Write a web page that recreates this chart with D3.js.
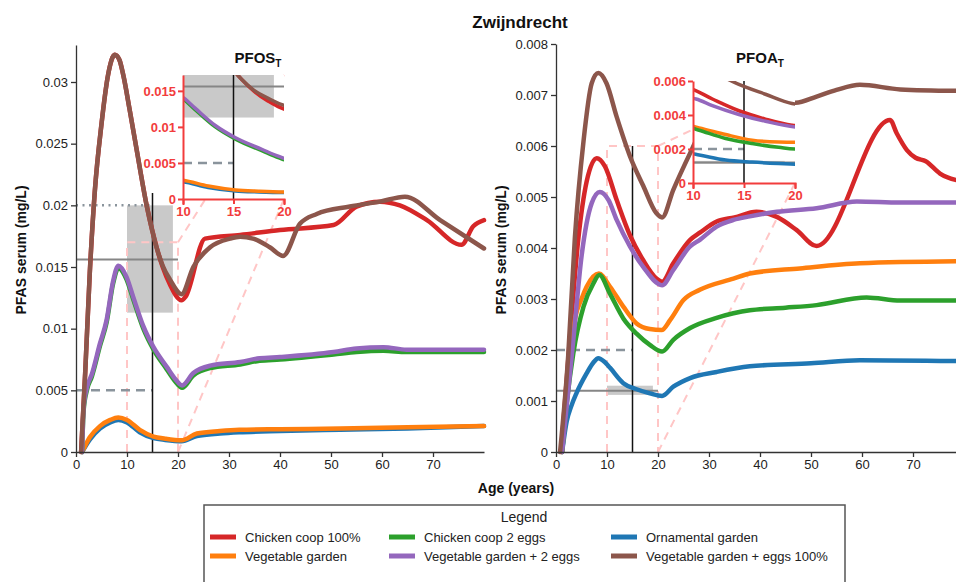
<!DOCTYPE html>
<html>
<head>
<meta charset="utf-8">
<script src="https://cdn.jsdelivr.net/npm/d3@7"></script>
<style>
  body { margin: 0; background: #fff; }
  svg { display: block; font-family: "Liberation Sans", Arial, sans-serif; }
</style>
</head>
<body>
<svg id="chart" width="956" height="582"></svg>
<script>
// ---------- scenarios ----------
const scenarioNames = [
  "Chicken coop 100%", "Chicken coop 2 eggs", "Ornamental garden",
  "Vegetable garden", "Vegetable garden + 2 eggs", "Vegetable garden + eggs 100%"
];
const scenarioColors = ["#d62728", "#2ca02c", "#1f77b4", "#ff7f0e", "#9467bd", "#8c564b"];
// draw order (index into scenarioNames): red, blue, orange, green, purple, brown
const drawOrder = [0, 2, 3, 1, 4, 5];

// ---------- ticks ----------
const ageTicks = [0, 10, 20, 30, 40, 50, 60, 70];
const insetAgeTicks = [10, 15, 20];
const pfosTicks = [0, 0.005, 0.01, 0.015, 0.02, 0.025, 0.03];
const pfoaTicks = [0, 0.001, 0.002, 0.003, 0.004, 0.005, 0.006, 0.007, 0.008];
const pfosInsetTicks = [0, 0.005, 0.01, 0.015];
const pfoaInsetTicks = [0, 0.002, 0.004, 0.006];

// ---------- PFOS serum (mg/L) by age ----------
const pfosChickenCoop100 = [[1,0],[1.8,0.0064],[2.7,0.0145],[3.7,0.0212],[5,0.0266],[6.3,0.0306],[7.6,0.0322],[8.5,0.0318],[9.3,0.0305],[10.5,0.0278],[11.9,0.0245],[13.9,0.0199],[15.8,0.0166],[17,0.0150],[18.4,0.0136],[20.7,0.0123],[21.5,0.0126],[25.3,0.0173],[32.2,0.0176],[40,0.0180],[50.5,0.0184],[55,0.0199],[59.6,0.0203],[63.5,0.0200],[68.8,0.0188],[75.6,0.0168],[77.9,0.0183],[80,0.0188]];
const pfosChickenCoop2Eggs = [[1.2,0],[1.5,0.0034],[2.2,0.0051],[3.1,0.0061],[4.7,0.0086],[6,0.0105],[7.3,0.0137],[8.3,0.0149],[9.9,0.0140],[11.2,0.0124],[13.2,0.0100],[15.2,0.0083],[17.8,0.0067],[19.5,0.0057],[20.8,0.0052],[23,0.0062],[26.3,0.0068],[32.2,0.0071],[36,0.0074],[40,0.0075],[50.5,0.0079],[55,0.0081],[60.3,0.0082],[64.8,0.0081],[80,0.0081]];
const pfosOrnamental = [[1.2,0],[2.7,0.0010],[4.7,0.0019],[6.7,0.0024],[8.3,0.0026],[10,0.0024],[12.5,0.0016],[15.2,0.00112],[17.5,0.00098],[20.7,0.00088],[23.7,0.0013],[28.2,0.0015],[32,0.0016],[40,0.0017],[51.8,0.0018],[65,0.0019],[80,0.0021]];
const pfosVegetable = [[1.2,0],[2.7,0.0012],[4.7,0.0021],[6.7,0.0026],[8.3,0.0028],[10,0.0026],[12.5,0.0018],[15.2,0.00125],[17.5,0.00108],[20.7,0.00095],[23.7,0.0015],[28.2,0.0017],[32,0.0018],[40,0.00185],[51.8,0.0019],[65,0.0020],[80,0.0021]];
const pfosVegetable2Eggs = [[1.2,0],[1.5,0.0036],[2.2,0.0053],[3.1,0.0063],[4.7,0.0088],[6,0.0107],[7.3,0.0139],[8.3,0.0151],[9.9,0.0142],[11.2,0.0126],[13.2,0.0102],[15.2,0.0085],[17.8,0.0069],[19.5,0.0059],[20.8,0.0054],[23,0.0064],[26.3,0.0070],[32.2,0.0073],[36,0.0076],[40,0.0077],[50.5,0.0081],[55,0.0084],[60.3,0.0085],[64.8,0.0083],[80,0.0083]];
const pfosVegetableEggs100 = [[1,0],[1.8,0.0064],[2.7,0.0145],[3.7,0.0212],[5,0.0266],[6.3,0.0306],[7.6,0.0322],[8.5,0.0318],[9.3,0.0305],[10.5,0.0278],[11.9,0.0245],[13.9,0.0199],[15.8,0.0166],[17,0.0151],[18.4,0.0140],[20.7,0.0128],[23,0.0150],[26.3,0.0166],[30.2,0.0173],[32.2,0.01745],[34.7,0.0173],[38,0.0166],[40.6,0.0159],[43.9,0.0185],[47.2,0.0193],[53.7,0.0199],[59.6,0.0203],[64.5,0.0207],[71.4,0.0188],[80,0.0165]];

// ---------- PFOA serum (mg/L) by age ----------
const pfoaChickenCoop100 = [[1,0],[2.7,0.0022],[4.4,0.0042],[6,0.0053],[8,0.00576],[9.6,0.0056],[11.9,0.00494],[14.5,0.00425],[17.1,0.00376],[19.7,0.0034],[20.8,0.00334],[23,0.0037],[26.3,0.00416],[28.2,0.0043],[31.5,0.00452],[35,0.0046],[39.3,0.00471],[43.3,0.00461],[47.2,0.00435],[51.1,0.00404],[65.5,0.00651],[66.8,0.00625],[68.8,0.00592],[70.5,0.00577],[72.5,0.0057],[75.3,0.00546],[80,0.0053]];
const pfoaChickenCoop2Eggs = [[1.2,0],[2.1,0.00095],[3.4,0.00194],[5.4,0.00285],[7.3,0.0033],[8.5,0.00347],[10.6,0.0031],[13.2,0.00262],[15.8,0.00232],[18.4,0.00210],[20.8,0.00197],[23,0.0022],[26.3,0.00243],[31.5,0.00263],[34.8,0.00272],[38,0.00278],[45,0.00283],[51.1,0.00288],[60.9,0.00303],[67.5,0.00297],[80,0.00297]];
const pfoaOrnamental = [[1.2,0],[2.1,0.0006],[3,0.0009],[4,0.00115],[6,0.00154],[7.3,0.00175],[8.3,0.00184],[9.5,0.00177],[10.6,0.00165],[13.2,0.00135],[15.8,0.00123],[18.4,0.00115],[20.8,0.0011],[23,0.00128],[26.3,0.00145],[31.5,0.00157],[38,0.00168],[50,0.00174],[59.6,0.0018],[80,0.00178]];
const pfoaVegetable = [[1.2,0],[2.2,0.0013],[3,0.0021],[3.7,0.0026],[5,0.0030],[6,0.00324],[8.4,0.0035],[10.6,0.00324],[13.2,0.00285],[15.8,0.00252],[18.4,0.00241],[20.7,0.00239],[22.4,0.00259],[25,0.00298],[28.2,0.00318],[34.8,0.0034],[38,0.0035],[47.8,0.0036],[59.6,0.0037],[80,0.00374]];
const pfoaVegetable2Eggs = [[1.2,0],[3.4,0.0022],[5,0.00383],[7,0.00488],[8.6,0.0051],[10.3,0.00494],[11.9,0.00455],[14.5,0.00403],[17.1,0.00363],[20.8,0.00327],[23,0.00357],[26.3,0.00403],[28.2,0.00416],[31.5,0.00442],[34.8,0.00455],[38,0.00462],[43.3,0.00471],[51.1,0.00478],[59,0.00491],[67.5,0.00489],[80,0.00489]];
const pfoaVegetableEggs100 = [[0.8,0],[2.4,0.0019],[3.7,0.0042],[5.4,0.0061],[7,0.00723],[8.3,0.00743],[9.9,0.00723],[11.9,0.00657],[14.5,0.00580],[17.1,0.00522],[19.7,0.00468],[20.8,0.0046],[23,0.00514],[26.3,0.00586],[30,0.0066],[35,0.0070],[40,0.0070],[44,0.0069],[47,0.00685],[51.1,0.00697],[55,0.0071],[59.6,0.0072],[67.5,0.00711],[80,0.00708]];

// ---------- guide values ----------
const pfosZoomBox = [10, 20, 0, 0.017];          // age range and serum range shown in the inset
const pfosGrayBox = [10, 19, 0.0113, 0.02];
const pfosSolidGuide = 0.0156, pfosDashedGuide = 0.005, pfosDottedGuide = 0.02, pfosMarkerTop = 0.021;
const pfoaZoomBox = [10, 20, 0, 0.006];
const pfoaGrayBox = [10, 19, 0.00112, 0.0013];
const pfoaSolidGuide = 0.0012, pfoaDashedGuide = 0.002, pfoaMarkerTop = 0.006;
const markerAge = 15;

const svg = d3.select("#chart");
const fmt = v => String(+v.toFixed(4));
const INSET_RED = "#f23c3c";
const PINK = "#ffc6c6";
const GUIDE = "#8a949c";

svg.append("text").attr("x", 520).attr("y", 28).attr("text-anchor", "middle")
  .attr("font-size", 17).attr("font-weight", "bold").attr("fill", "#111").text("Zwijndrecht");

function drawPanel(p) {
  const x = d3.scaleLinear().domain([0, 80]).range(p.xRange);
  const y = d3.scaleLinear().domain(p.yDomain).range([452, p.yTop]);
  const xi = d3.scaleLinear().domain([10, 20]).range(p.insetX);
  const yi = d3.scaleLinear().domain(p.insetYDomain).range(p.insetY);
  const g = svg.append("g");

  // gray box
  g.append("rect").attr("x", x(p.grayBox[0])).attr("width", x(p.grayBox[1]) - x(p.grayBox[0]))
    .attr("y", y(p.grayBox[3])).attr("height", y(p.grayBox[2]) - y(p.grayBox[3]))
    .attr("fill", "#c6c6c6").attr("opacity", 0.95);

  // zoom region outline and connectors
  const zb = p.zoomBox;
  const pinkPath = d3.path();
  pinkPath.moveTo(x(zb[0]), y(zb[2])); pinkPath.lineTo(x(zb[0]), y(zb[3]));
  pinkPath.lineTo(x(zb[1]), y(zb[3])); pinkPath.lineTo(x(zb[1]), y(zb[2]));
  g.append("path").attr("d", pinkPath.toString()).attr("fill", "none")
    .attr("stroke", PINK).attr("stroke-width", 2).attr("stroke-dasharray", "8,6");
  g.append("line").attr("x1", x(zb[1])).attr("y1", y(zb[3])).attr("x2", xi(20)).attr("y2", yi.range()[1])
    .attr("stroke", PINK).attr("stroke-width", 2).attr("stroke-dasharray", "8,6");
  g.append("line").attr("x1", x(zb[1])).attr("y1", y(zb[2])).attr("x2", xi(20)).attr("y2", yi(0))
    .attr("stroke", PINK).attr("stroke-width", 2).attr("stroke-dasharray", "8,6");

  // guides
  g.append("line").attr("x1", x(0)).attr("x2", x(20)).attr("y1", y(p.solidGuide)).attr("y2", y(p.solidGuide))
    .attr("stroke", "#868686").attr("stroke-width", 2);
  g.append("line").attr("x1", x(0)).attr("x2", x(markerAge)).attr("y1", y(p.dashedGuide)).attr("y2", y(p.dashedGuide))
    .attr("stroke", GUIDE).attr("stroke-width", 2.5).attr("stroke-dasharray", "9,6");
  if (p.dottedGuide != null) {
    g.append("line").attr("x1", x(0)).attr("x2", x(markerAge)).attr("y1", y(p.dottedGuide)).attr("y2", y(p.dottedGuide))
      .attr("stroke", GUIDE).attr("stroke-width", 2.5).attr("stroke-dasharray", "2,4.5");
  }
  g.append("line").attr("x1", x(markerAge)).attr("x2", x(markerAge)).attr("y1", y(0)).attr("y2", y(p.markerTop))
    .attr("stroke", "#111").attr("stroke-width", 1.5);

  // series
  const line = d3.line().x(d => x(d[0])).y(d => y(d[1])).curve(d3.curveMonotoneX);
  drawOrder.forEach(i => {
    g.append("path").datum(p.series[i]).attr("d", line).attr("fill", "none")
      .attr("stroke", scenarioColors[i]).attr("stroke-width", 4.5)
      .attr("stroke-linejoin", "round").attr("stroke-linecap", "round");
  });

  // main axes
  const ax = g.append("g").attr("transform", "translate(0,452)")
    .call(d3.axisBottom(x).tickValues(ageTicks).tickFormat(d3.format("d")).tickSize(5).tickSizeOuter(0));
  const ay = g.append("g").attr("transform", `translate(${p.xRange[0]},0)`)
    .call(d3.axisLeft(y).tickValues(p.yTicks).tickFormat(fmt).tickSize(5).tickSizeOuter(0));
  [ax, ay].forEach(a => {
    a.selectAll("path, line").attr("stroke", "#333").attr("stroke-width", 1.3);
    a.selectAll("text").attr("font-size", 13).attr("fill", "#222").attr("font-family", "Liberation Sans, Arial, sans-serif");
  });
  ay.selectAll("text").attr("x", -8);
  ax.selectAll("text").attr("y", 8);

  g.append("text").attr("transform", `translate(${p.yLabelX},250) rotate(-90)`).attr("text-anchor", "middle")
    .attr("font-size", 14).attr("font-weight", "bold").attr("fill", "#111").text("PFAS serum (mg/L)");

  // ---------- inset ----------
  const ig = svg.append("g");
  const cid = "clip-" + p.id;
  ig.append("clipPath").attr("id", cid).append("rect")
    .attr("x", p.insetX[0]).attr("y", p.insetY[1]).attr("width", p.insetX[1] - p.insetX[0]).attr("height", p.insetY[0] - p.insetY[1]);
  ig.append("rect").attr("x", p.insetX[0]).attr("y", p.insetY[1]).attr("width", p.insetX[1] - p.insetX[0])
    .attr("height", p.insetY[0] - p.insetY[1]).attr("fill", "#fff");
  const c = ig.append("g").attr("clip-path", `url(#${cid})`);
  c.append("rect").attr("x", xi(p.grayBox[0])).attr("width", xi(p.grayBox[1]) - xi(p.grayBox[0]))
    .attr("y", yi(p.grayBox[3])).attr("height", yi(p.grayBox[2]) - yi(p.grayBox[3]))
    .attr("fill", "#c6c6c6").attr("opacity", 0.95);
  c.append("line").attr("x1", xi(10)).attr("x2", xi(20)).attr("y1", yi(p.solidGuide)).attr("y2", yi(p.solidGuide))
    .attr("stroke", "#868686").attr("stroke-width", 2);
  c.append("line").attr("x1", xi(10)).attr("x2", xi(markerAge)).attr("y1", yi(p.dashedGuide)).attr("y2", yi(p.dashedGuide))
    .attr("stroke", GUIDE).attr("stroke-width", 2.5).attr("stroke-dasharray", "9,6");
  c.append("line").attr("x1", xi(markerAge)).attr("x2", xi(markerAge)).attr("y1", p.insetY[0]).attr("y2", p.insetY[1])
    .attr("stroke", "#111").attr("stroke-width", 1.5);
  const iline = d3.line().x(d => xi(d[0])).y(d => yi(d[1])).curve(d3.curveMonotoneX);
  drawOrder.forEach(i => {
    c.append("path").datum(p.series[i]).attr("d", iline).attr("fill", "none")
      .attr("stroke", scenarioColors[i]).attr("stroke-width", 3.5).attr("stroke-linejoin", "round");
  });
  const iax = ig.append("g").attr("transform", `translate(0,${p.insetY[0]})`)
    .call(d3.axisBottom(xi).tickValues(insetAgeTicks).tickFormat(d3.format("d")).tickSize(5).tickSizeOuter(6));
  const iay = ig.append("g").attr("transform", `translate(${p.insetX[0]},0)`)
    .call(d3.axisLeft(yi).tickValues(p.insetTicks).tickFormat(fmt).tickSize(5).tickSizeOuter(0));
  [iax, iay].forEach(a => {
    a.selectAll("path, line").attr("stroke", INSET_RED).attr("stroke-width", 2);
    a.selectAll("text").attr("font-size", 13).attr("font-weight", "bold").attr("fill", INSET_RED)
      .attr("font-family", "Liberation Sans, Arial, sans-serif");
  });
  iay.selectAll("text").attr("x", -7);
  iax.selectAll("text").attr("y", 8);

  const t = ig.append("text").attr("x", p.titleX).attr("y", 63).attr("text-anchor", "middle")
    .attr("font-size", 15).attr("font-weight", "bold").attr("fill", "#111");
  t.append("tspan").text(p.title);
  t.append("tspan").attr("font-size", 10).attr("dy", 4).text("T");
}

drawPanel({
  id: "pfos", title: "PFOS", titleX: 258,
  xRange: [76, 484], yDomain: [0, 0.033], yTop: 45, yTicks: pfosTicks, yLabelX: 26,
  insetX: [183, 284], insetY: [199, 75], insetYDomain: [0, 0.0172], insetTicks: pfosInsetTicks,
  zoomBox: pfosZoomBox, grayBox: pfosGrayBox,
  solidGuide: pfosSolidGuide, dashedGuide: pfosDashedGuide, dottedGuide: pfosDottedGuide, markerTop: pfosMarkerTop,
  series: [pfosChickenCoop100, pfosChickenCoop2Eggs, pfosOrnamental, pfosVegetable, pfosVegetable2Eggs, pfosVegetableEggs100]
});
drawPanel({
  id: "pfoa", title: "PFOA", titleX: 760,
  xRange: [556, 964], yDomain: [0, 0.008], yTop: 44, yTicks: pfoaTicks, yLabelX: 506,
  insetX: [693, 795], insetY: [183, 81], insetYDomain: [0, 0.006], insetTicks: pfoaInsetTicks,
  zoomBox: pfoaZoomBox, grayBox: pfoaGrayBox,
  solidGuide: pfoaSolidGuide, dashedGuide: pfoaDashedGuide, dottedGuide: null, markerTop: pfoaMarkerTop,
  series: [pfoaChickenCoop100, pfoaChickenCoop2Eggs, pfoaOrnamental, pfoaVegetable, pfoaVegetable2Eggs, pfoaVegetableEggs100]
});

svg.append("text").attr("x", 516).attr("y", 493).attr("text-anchor", "middle")
  .attr("font-size", 14).attr("font-weight", "bold").attr("fill", "#111").text("Age (years)");

// ---------- legend ----------
const lg = svg.append("g");
lg.append("rect").attr("x", 204).attr("y", 505).attr("width", 641).attr("height", 100)
  .attr("fill", "#fff").attr("stroke", "#555").attr("stroke-width", 1.5);
lg.append("text").attr("x", 524).attr("y", 522).attr("text-anchor", "middle")
  .attr("font-size", 14).attr("fill", "#222").text("Legend");
const colX = [210, 389, 611];
scenarioNames.forEach((name, i) => {
  const cx = colX[i % 3], cy = 537 + Math.floor(i / 3) * 19;
  lg.append("line").attr("x1", cx).attr("x2", cx + 26).attr("y1", cy).attr("y2", cy)
    .attr("stroke", scenarioColors[i]).attr("stroke-width", 5);
  lg.append("text").attr("x", cx + 35).attr("y", cy + 4.5).attr("font-size", 13).attr("fill", "#222").text(name);
});
</script>
</body>
</html>
